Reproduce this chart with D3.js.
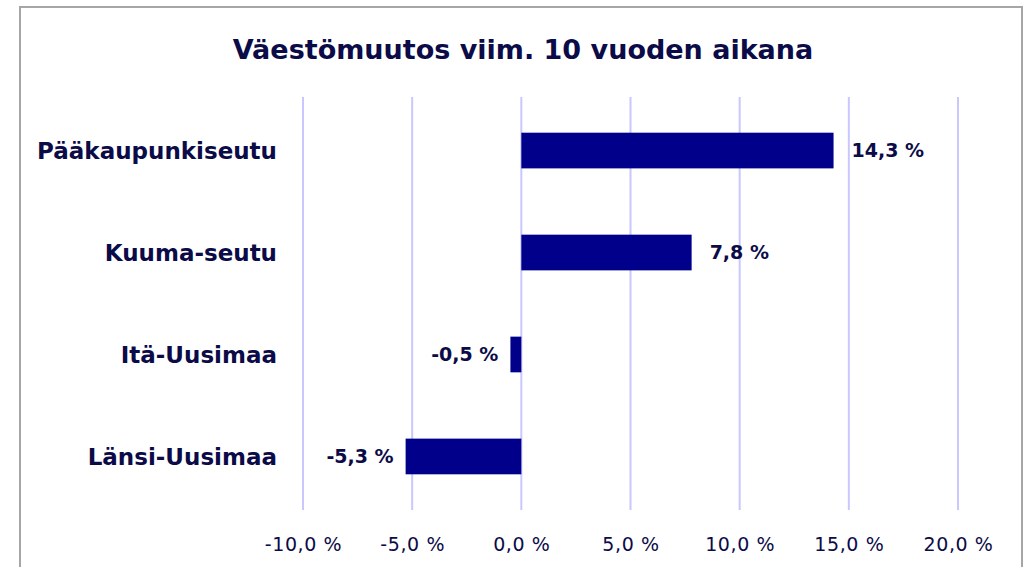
<!DOCTYPE html>
<html>
<head>
<meta charset="utf-8">
<script src="https://cdn.jsdelivr.net/npm/d3@7"></script>
<style>
  body { margin: 0; background: #fff; }
  svg { display: block; }
</style>
</head>
<body>
<div id="chart"></div>
<script>
// alueet ja muutos %
var alueet = ["Pääkaupunkiseutu", "Kuuma-seutu", "Itä-Uusimaa", "Länsi-Uusimaa"];
var muutos = [14.3, 7.8, -0.5, -5.3];
var tikit = [-10, -5, 0, 5, 10, 15, 20];
var otsikko = "Väestömuutos viim. 10 vuoden aikana";

var width = 1032, height = 567;
var margin = {top: 97, right: 75, bottom: 57, left: 303};
var textColor = "#0b0b48";
var bold = "'DejaVu Sans', sans-serif";

var svg = d3.select("#chart").append("svg")
    .attr("width", width)
    .attr("height", height);

// frame
svg.append("rect")
    .attr("x", 20).attr("y", 7)
    .attr("width", 1002).attr("height", 580)
    .attr("fill", "none")
    .attr("stroke", "#a6a6a6")
    .attr("stroke-width", 2);

var x = d3.scaleLinear()
    .domain([-10, 20])
    .range([margin.left, width - margin.right + 1]);

var y = d3.scaleBand()
    .domain(alueet)
    .range([margin.top, height - margin.bottom])
    .paddingInner(0.65)
    .paddingOuter(0.35);

var fmt = function(v) { return d3.format(".1f")(v).replace(".", ",").replace("−", "-") + " %"; };

// gridlines
svg.selectAll(".grid")
    .data(tikit)
  .enter().append("line")
    .attr("class", "grid")
    .attr("x1", function(d) { return x(d); })
    .attr("x2", function(d) { return x(d); })
    .attr("y1", margin.top)
    .attr("y2", height - margin.bottom)
    .attr("stroke", "#c8c8ff")
    .attr("stroke-width", 2);

// x axis labels
var xAxis = d3.axisBottom(x).tickValues(tikit).tickSize(0).tickPadding(0)
    .tickFormat(fmt);
var ax = svg.append("g")
    .attr("transform", "translate(0," + 544 + ")")
    .call(xAxis);
ax.select(".domain").remove();
ax.selectAll("text")
    .attr("dy", "0.35em")
    .attr("font-family", "'DejaVu Sans', sans-serif")
    .attr("font-size", 19)
    .attr("letter-spacing", 0.6)
    .attr("fill", textColor);

// bars
svg.selectAll(".bar")
    .data(muutos)
  .enter().append("rect")
    .attr("class", "bar")
    .attr("x", function(d) { return x(Math.min(0, d)); })
    .attr("y", function(d, i) { return y(alueet[i]); })
    .attr("width", function(d) { return Math.abs(x(d) - x(0)); })
    .attr("height", y.bandwidth())
    .attr("fill", "#00008b");

// value labels
svg.selectAll(".val")
    .data(muutos)
  .enter().append("text")
    .attr("class", "val")
    .attr("x", function(d) { return d >= 0 ? x(d) + 18 : x(d) - 12; })
    .attr("y", function(d, i) { return y(alueet[i]) + y.bandwidth() / 2; })
    .attr("dy", "0.35em")
    .attr("text-anchor", function(d) { return d >= 0 ? "start" : "end"; })
    .attr("font-family", bold)
    .attr("font-weight", "bold")
    .attr("font-size", 19)
    .attr("fill", textColor)
    .text(fmt);

// category labels
svg.selectAll(".cat")
    .data(alueet)
  .enter().append("text")
    .attr("class", "cat")
    .attr("x", 277)
    .attr("y", function(d) { return y(d) + y.bandwidth() / 2; })
    .attr("dy", "0.35em")
    .attr("text-anchor", "end")
    .attr("font-family", bold)
    .attr("font-weight", "bold")
    .attr("font-size", 23)
    .attr("fill", textColor)
    .text(function(d) { return d; });

// title
svg.append("text")
    .attr("x", 523)
    .attr("y", 50)
    .attr("dy", "0.35em")
    .attr("text-anchor", "middle")
    .attr("font-family", bold)
    .attr("font-weight", "bold")
    .attr("font-size", 27)
    .attr("fill", textColor)
    .text(otsikko);
</script>
</body>
</html>
